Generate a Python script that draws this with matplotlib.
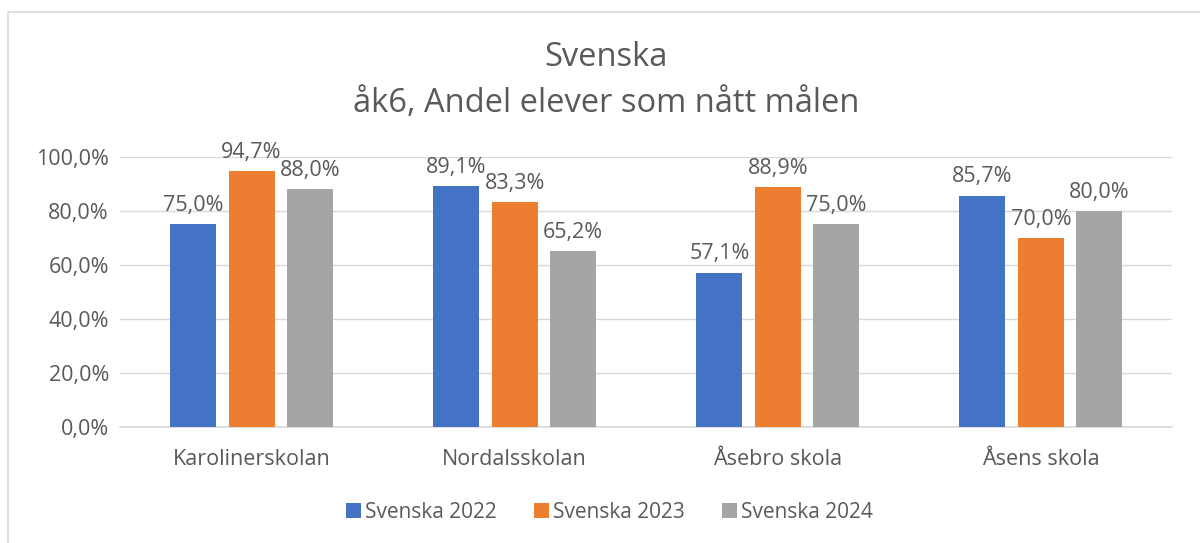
import matplotlib
matplotlib.use('Agg')
import matplotlib.pyplot as plt
from matplotlib.patches import Rectangle
import numpy as np

plt.rcParams['font.family'] = ['Open Sans', 'DejaVu Sans']

schools = ['Karolinerskolan', 'Nordalsskolan', 'Åsebro skola', 'Åsens skola']
series_names = ['Svenska 2022', 'Svenska 2023', 'Svenska 2024']
svenska_2022 = [75.0, 89.1, 57.1, 85.7]
svenska_2023 = [94.7, 83.3, 88.9, 70.0]
svenska_2024 = [88.0, 65.2, 75.0, 80.0]
y_ticks = [0, 20, 40, 60, 80, 100]

colors = ['#4472C4', '#ED7D31', '#A5A5A5']
text_col = '#595959'

fig = plt.figure(figsize=(12, 5.43), dpi=100)
ax = fig.add_axes([0.1, 0.2136, 0.877, 0.4975])

# light chart frame (cut off at right and bottom like the screenshot)
fig.patches.append(Rectangle((8 / 1200, -0.1), 1.2, 1 - 12 / 543 + 0.1,
                             transform=fig.transFigure, fill=False,
                             edgecolor='#d9d9d9', linewidth=1.2))

x = np.arange(len(schools))
width = 0.175
step = 0.222
all_series = [svenska_2022, svenska_2023, svenska_2024]
for i, (vals, name) in enumerate(zip(all_series, series_names)):
    pos = x + (i - 1) * step
    bars = ax.bar(pos, vals, width, color=colors[i], label=name, zorder=3)
    for b, v in zip(bars, vals):
        ax.annotate(f'{v:.1f}%'.replace('.', ','),
                    (b.get_x() + b.get_width() / 2, v),
                    xytext=(0, 6), textcoords='offset points',
                    ha='center', va='bottom', fontsize=15.5, color=text_col)

ax.set_ylim(0, 100)
ax.set_xlim(-0.5, len(schools) - 0.5)
ax.set_yticks(y_ticks)
ax.set_yticklabels([f'{t:.1f}%'.replace('.', ',') for t in y_ticks])
ax.set_xticks(x)
ax.set_xticklabels(schools)
ax.tick_params(axis='both', length=0, labelsize=15.5, colors=text_col)
ax.tick_params(axis='x', pad=16)
ax.tick_params(axis='y', pad=8)
ax.grid(axis='y', color='#d9d9d9', linewidth=1, zorder=0)
for s in ['top', 'right', 'left']:
    ax.spines[s].set_visible(False)
ax.spines['bottom'].set_color('#d9d9d9')
ax.spines['bottom'].set_linewidth(1.2)

fig.text(0.505, 1 - 57 / 543, 'Svenska', ha='center', va='center',
         fontsize=23.5, color=text_col)
fig.text(0.505, 1 - 103 / 543, 'åk6, Andel elever som nått målen', ha='center',
         va='center', fontsize=23.5, color=text_col)

fig.legend(loc='center', bbox_to_anchor=(0.508, 1 - 512 / 543), ncol=3,
           frameon=False, fontsize=15, labelcolor=text_col,
           handlelength=0.7, handleheight=0.7, handletextpad=0.2,
           columnspacing=1.8)

fig.savefig('out.png', dpi=100, facecolor='white')
